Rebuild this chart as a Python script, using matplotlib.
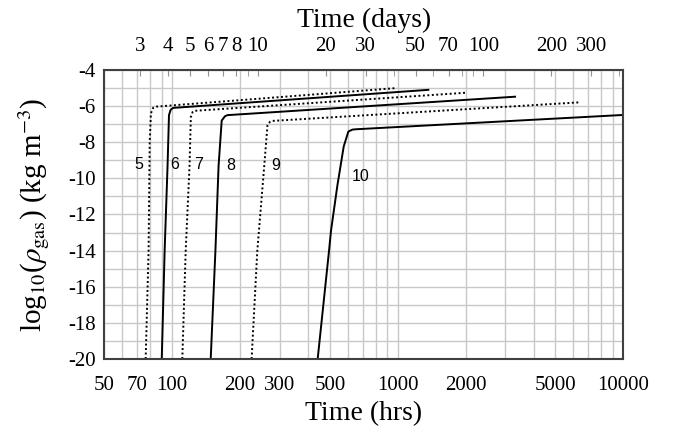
import numpy as np
import matplotlib
matplotlib.use("Agg")
import matplotlib.pyplot as plt
from matplotlib.ticker import LogLocator, MultipleLocator, NullFormatter

# gas density curves, time in hours vs log10(rho_gas)
t5 = [76.3, 78.6, 79.5, 80.5, 82.5, 85.0, 990]
y5 = [-20, -14, -8.0, -6.4, -6.08, -6.03, -5.0]
t6 = [89.9, 92.6, 95.4, 96.8, 98.5, 101, 1367]
y6 = [-20, -14, -9.3, -6.5, -6.2, -6.1, -5.1]
t7 = [110.9, 114.8, 119.4, 121, 123.3, 126, 2008]
y7 = [-20, -14, -9.3, -6.6, -6.32, -6.26, -5.26]
t8 = [148.2, 155.5, 160.6, 165.8, 171.5, 176, 3313]
y8 = [-20, -14, -9.3, -6.8, -6.56, -6.5, -5.48]
t9 = [225, 238.5, 256, 264.6, 271.5, 278, 6436]
y9 = [-20, -14, -9.3, -7.05, -6.87, -6.82, -5.79]
t10 = [441.6, 496, 506, 540, 576, 604, 630, 658, 10000]
y10 = [-20, -14, -12.9, -10.4, -8.24, -7.41, -7.3, -7.28, -6.49]

curve_names = ["5", "6", "7", "8", "9", "10"]
label_t = [70.8, 103, 131, 182, 286.6, 687]
label_y = [-9.26, -9.26, -9.26, -9.3, -9.3, -9.91]

hrs_ticks = [50, 70, 100, 200, 300, 500, 1000, 2000, 5000, 10000]
day_ticks = [3, 4, 5, 6, 7, 8, 10, 20, 30, 50, 70, 100, 200, 300]
y_ticks = list(range(-20, -3, 2))

plt.rcParams['axes.unicode_minus'] = False
plt.rcParams['mathtext.fontset'] = 'stix'
serif = ['Liberation Serif', 'DejaVu Serif']

fig = plt.figure(figsize=(6.86, 4.33), dpi=100)
ax = fig.add_axes([0.152, 0.171, 0.7566, 0.6674])

dotted = (0, (1.0, 1.3))
styles = [dotted, '-', dotted, '-', dotted, '-']
series = [(t5, y5), (t6, y6), (t7, y7), (t8, y8), (t9, y9), (t10, y10)]
for (t, y), ls in zip(series, styles):
    ax.plot(t, y, color='black', linestyle=ls, linewidth=1.4)

for name, tx, ty in zip(curve_names, label_t, label_y):
    ax.text(tx, ty, name, family=['Liberation Sans'], fontsize=11.5,
            ha='center', va='center')

ax.set_xscale('log')
ax.set_xlim(50, 10000)
ax.set_ylim(-20, -4)

ax.set_xticks(hrs_ticks)
ax.set_xticklabels([str(v) for v in hrs_ticks])
ax.xaxis.set_minor_locator(LogLocator(base=10, subs=np.arange(1, 10)))
ax.xaxis.set_minor_formatter(NullFormatter())
ax.set_yticks(y_ticks)
ax.set_yticklabels([str(v) for v in y_ticks])
ax.yaxis.set_minor_locator(MultipleLocator(1))

ax.grid(which='both', color='#c8c8c8', linewidth=1.0)
ax.set_axisbelow(True)
ax.tick_params(which='both', length=0)
ax.tick_params(axis='x', pad=12)
ax.tick_params(axis='y', pad=6)
for lab in ax.get_xticklabels() + ax.get_yticklabels():
    lab.set_family(serif)
    lab.set_fontsize(15)
for sp in ax.spines.values():
    sp.set_color('#404040')
    sp.set_linewidth(1.5)

ax.set_xlabel('Time (hrs)', family=serif, fontsize=20, labelpad=5)
ax.set_ylabel(r'log$_{10}$($\rho_{\rm gas}$) (kg m$^{-3}$)', family=serif,
              fontsize=21, labelpad=12)

# time in days along the top
top = ax.secondary_xaxis('top', functions=(lambda h: h / 24.0, lambda d: d * 24.0))
top.set_xticks(day_ticks)
top.set_xticklabels([str(v) for v in day_ticks])
top.xaxis.set_minor_locator(LogLocator(base=10, subs=np.arange(1, 10)))
top.xaxis.set_minor_formatter(NullFormatter())
top.tick_params(which='both', direction='in', length=4, color='#909090', pad=10)
for lab in top.get_xticklabels():
    lab.set_family(serif)
    lab.set_fontsize(15)
top.set_xlabel('Time (days)', family=serif, fontsize=20, labelpad=7)
top.spines['top'].set_visible(False)

fig.savefig('out.png', dpi=100)
